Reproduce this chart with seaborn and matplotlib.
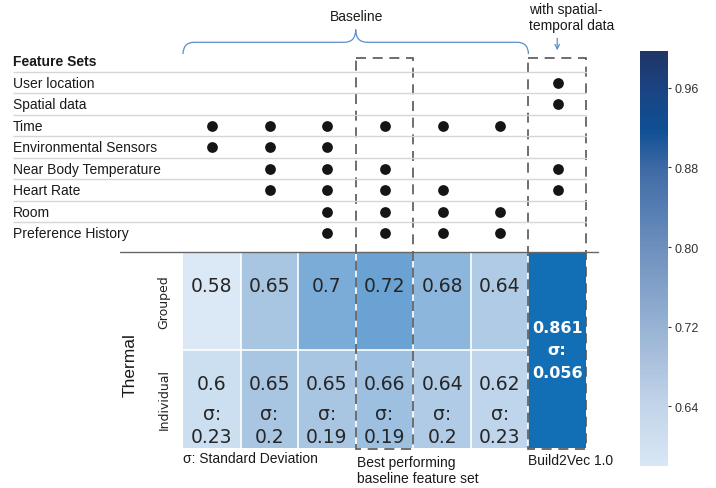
import numpy as np
import matplotlib
matplotlib.use("Agg")
import matplotlib.pyplot as plt
from matplotlib.colors import LinearSegmentedColormap, Normalize
from matplotlib.cm import ScalarMappable
from matplotlib.patches import Rectangle, PathPatch
from matplotlib.path import Path
from matplotlib.lines import Line2D
import seaborn as sns

sns.set_theme(style="white")
plt.rcParams["font.family"] = ["Liberation Sans", "DejaVu Sans"]

# feature rows of the dot matrix
feature_sets = ["User location", "Spatial data", "Time", "Environmental Sensors",
                "Near Body Temperature", "Heart Rate", "Room", "Preference History"]

# which features each configuration uses (6 baselines + Build2Vec)
config_features = [
    ["Time", "Environmental Sensors"],
    ["Time", "Environmental Sensors", "Near Body Temperature", "Heart Rate"],
    ["Time", "Environmental Sensors", "Near Body Temperature", "Heart Rate", "Room", "Preference History"],
    ["Time", "Near Body Temperature", "Heart Rate", "Room", "Preference History"],
    ["Time", "Heart Rate", "Room", "Preference History"],
    ["Time", "Room", "Preference History"],
    ["User location", "Spatial data", "Near Body Temperature", "Heart Rate"],
]

row_labels = ["Grouped", "Individual"]
grouped_scores = [0.58, 0.65, 0.70, 0.72, 0.68, 0.64]
individual_scores = [0.60, 0.65, 0.65, 0.66, 0.64, 0.62]
individual_std = [0.23, 0.20, 0.19, 0.19, 0.20, 0.23]
build2vec_score = 0.861
build2vec_std = 0.056
cbar_ticks = [0.64, 0.72, 0.80, 0.88, 0.96]

W, H = 716, 489
BLUE = "#5b8fc9"
VMIN, VMAX = 0.58, 0.997

def fx(px):
    return px / W

def fy(py):
    return 1 - py / H

cell_cmap = LinearSegmentedColormap.from_list(
    "cells", [(0.0, "#dbe9f6"), (0.1667, "#a7c6e2"), (0.3333, "#6aa2d3"),
              (0.669, "#1270b7"), (1.0, "#08306b")])
bar_cmap = LinearSegmentedColormap.from_list(
    "bar", [(0.0, "#d8e7f5"), (0.14, "#c3d5ea"), (0.33, "#98b3d4"), (0.52, "#6f91bf"),
            (0.72, "#3e6aa5"), (0.81, "#0f4f94"), (0.9, "#1a4585"), (1.0, "#1f3567")])

scores = np.array([grouped_scores + [build2vec_score],
                   individual_scores + [build2vec_score]])
n_cols = scores.shape[1]

fig = plt.figure(figsize=(W / 100, H / 100), dpi=100)

# heatmap
hax = fig.add_axes([fx(183), fy(449), fx(403), 196 / H])
sns.heatmap(scores, ax=hax, cmap=cell_cmap, vmin=VMIN, vmax=VMAX, cbar=False,
            linewidths=0, xticklabels=False, yticklabels=row_labels)
hax.set_yticklabels(row_labels, rotation=90, va="center", family="DejaVu Sans",
                    fontsize=9, color="#222222")
hax.tick_params(left=False, bottom=False, pad=3)
hax.vlines(range(1, n_cols), 0, 2, color="white", lw=1.2)
hax.hlines(1, 0, n_cols - 1, color="white", lw=1.2)

txt = dict(ha="center", va="center", fontsize=13.5, family="DejaVu Sans", color="#262626")
for j in range(n_cols - 1):
    hax.text(j + 0.5, 0.34, f"{grouped_scores[j]:g}", **txt)
    hax.text(j + 0.5, 1.34, f"{individual_scores[j]:g}", **txt)
    hax.text(j + 0.5, 1.65, "σ:", **txt)
    hax.text(j + 0.5, 1.88, f"{individual_std[j]:g}", **txt)
hax.text(n_cols - 0.5, 1.0, f"{build2vec_score:g}\nσ:\n{build2vec_std:g}",
         ha="center", va="center", fontsize=11.5, fontweight="bold",
         family="DejaVu Sans", color="white", linespacing=1.6)

# dashed boxes: best baseline and Build2Vec
for col in (3, n_cols - 1):
    hax.add_patch(Rectangle((col, -1.98), 1, 3.99, fill=False, ls=(0, (6, 4)),
                            lw=1.2, ec="#555555", clip_on=False, zorder=5))

# baseline brace
yl, ye, yp, r = -2.14, -2.02, -2.27, 0.2
verts = [(0, ye), (0, yl), (r, yl), (3 - r, yl), (3, yl), (3, yp),
         (3, yl), (3 + r, yl), (6 - r, yl), (6, yl), (6, ye)]
codes = [Path.MOVETO, Path.CURVE3, Path.CURVE3, Path.LINETO, Path.CURVE3, Path.CURVE3,
         Path.CURVE3, Path.CURVE3, Path.LINETO, Path.CURVE3, Path.CURVE3]
hax.add_patch(PathPatch(Path(verts, codes), fill=False, ec=BLUE, lw=0.9, clip_on=False))
hax.annotate("", xy=(n_cols - 0.5, -2.03), xytext=(n_cols - 0.5, -2.21),
             arrowprops=dict(arrowstyle="->", color=BLUE, lw=0.9,
                             mutation_scale=8), annotation_clip=False)

# dot matrix of feature sets
dax = fig.add_axes([fx(13), fy(253), fx(587 - 13), (253 - 52) / H])
col_w = 403 / n_cols
x_left = -(183 - 13) / col_w
dax.set_xlim(x_left, n_cols)
dax.set_ylim(8.88, -0.465)
dax.axis("off")
dax.hlines([k + 0.5 for k in range(len(feature_sets))], x_left, n_cols,
           color="#d6d6d6", lw=1)
dax.text(x_left, 0, "Feature Sets", ha="left", va="center", fontsize=10,
         fontweight="bold", color="#1a1a1a")
for k, name in enumerate(feature_sets):
    dax.text(x_left, k + 1, name, ha="left", va="center", fontsize=10, color="#1a1a1a")
xs, ys = [], []
for j, feats in enumerate(config_features):
    for f in feats:
        xs.append(j + 0.5)
        ys.append(feature_sets.index(f) + 1)
dax.scatter(xs, ys, s=60, color="#151515", zorder=3, linewidths=0)

# separator line above the heatmap
fig.add_artist(Line2D([fx(120), fx(598)], [fy(253), fy(253)], color="#666666", lw=1))

# annotations
fig.text(fx(357), fy(17), "Baseline", ha="center", va="center", fontsize=10, color="#1a1a1a")
fig.text(fx(529), fy(18), "with spatial-\ntemporal data", ha="left", va="center",
         fontsize=10, color="#1a1a1a", linespacing=1.2)
fig.text(fx(183), fy(459), "σ: Standard Deviation", ha="left", va="center",
         fontsize=10, color="#1a1a1a")
fig.text(fx(357), fy(471), "Best performing\nbaseline feature set", ha="left",
         va="center", fontsize=10, color="#1a1a1a", linespacing=1.2)
fig.text(fx(528), fy(461), "Build2Vec 1.0", ha="left", va="center",
         fontsize=10, color="#1a1a1a")
fig.text(fx(130), fy(365), "Thermal", rotation=90, ha="center", va="center",
         fontsize=12.5, color="#1a1a1a")

# colorbar
cax = fig.add_axes([fx(640), fy(467), fx(28), 415 / H])
sm = ScalarMappable(norm=Normalize(VMIN, VMAX), cmap=bar_cmap)
cb = fig.colorbar(sm, cax=cax, ticks=cbar_ticks)
cb.outline.set_visible(False)
cb.ax.set_yticklabels([f"{t:.2f}" for t in cbar_ticks])
cax.tick_params(size=2, width=0.8, labelsize=9, colors="#333333", pad=3)

fig.savefig("out.png", dpi=100)
